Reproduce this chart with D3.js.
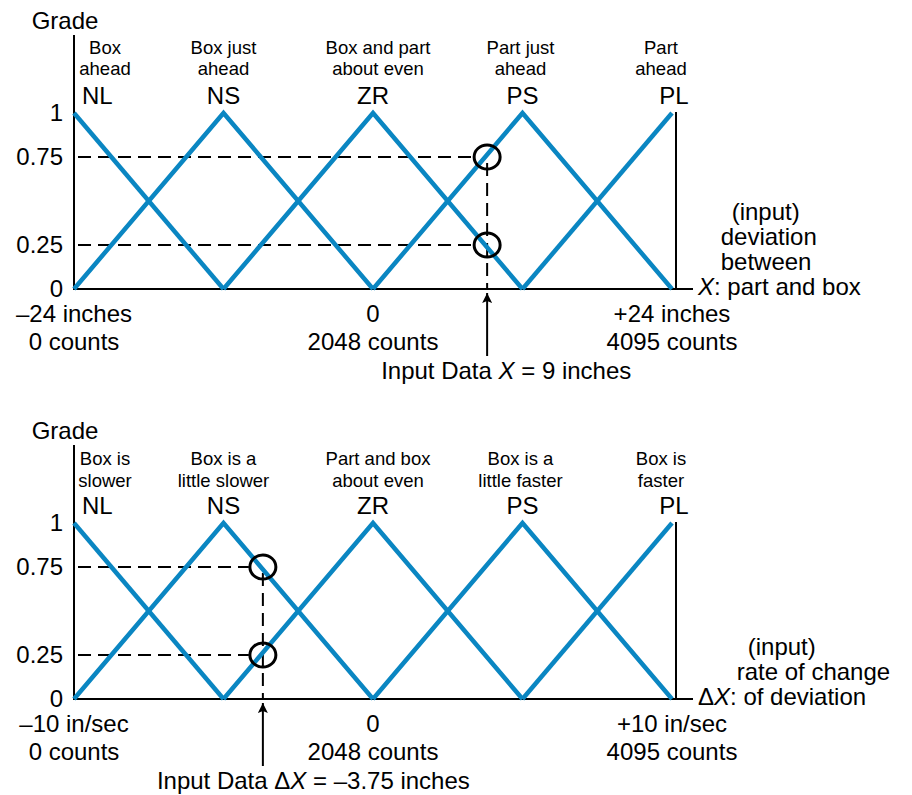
<!DOCTYPE html>
<html>
<head>
<meta charset="utf-8">
<script src="https://cdn.jsdelivr.net/npm/d3@7"></script>
<style>
  body { margin: 0; background: #fff; }
  text { font-family: "Liberation Sans", Arial, Helvetica, sans-serif; fill: #000; }
</style>
</head>
<body>
<div id="chart"></div>
<script>
// fuzzy set names, same for both panels
var setNames = ["NL", "NS", "ZR", "PS", "PL"];
var gradeTicks = [0, 0.25, 0.75, 1];

// top panel: deviation X between part and box (inches)
var devPeaks = [-24, -12, 0, 12, 24];
var devLabels = [["Box", "ahead"], ["Box just", "ahead"], ["Box and part", "about even"],
                 ["Part just", "ahead"], ["Part", "ahead"]];
var devTicks = [-24, 0, 24];
var devTickLabels = [["\u201324 inches", "0 counts"], ["0", "2048 counts"], ["+24 inches", "4095 counts"]];
var devNotes = ["(input)", "deviation", "between", "part and box"];
var devInput = 9;

// bottom panel: rate of change of deviation (in/sec)
var ratePeaks = [-10, -5, 0, 5, 10];
var rateLabels = [["Box is", "slower"], ["Box is a", "little slower"], ["Part and box", "about even"],
                  ["Box is a", "little faster"], ["Box is", "faster"]];
var rateTicks = [-10, 0, 10];
var rateTickLabels = [["\u201310 in/sec", "0 counts"], ["0", "2048 counts"], ["+10 in/sec", "4095 counts"]];
var rateNotes = ["(input)", "rate of change", "of deviation"];
var rateInput = -3.75;

var blue = "#0a86c2";
var big = "24px", small = "18.5px";
var W = 912, H = 795;

var svg = d3.select("#chart").append("svg")
    .attr("width", W)
    .attr("height", H);

svg.append("defs").append("marker")
    .attr("id", "head")
    .attr("viewBox", "0 0 10 10")
    .attr("refX", 10)
    .attr("refY", 5)
    .attr("markerUnits", "userSpaceOnUse")
    .attr("markerWidth", 11)
    .attr("markerHeight", 10)
    .attr("orient", "auto")
  .append("path")
    .attr("d", "M0,0 L10,5 L0,10 L2,5 Z")
    .attr("fill", "#000");

function drawPanel(top, cfg) {
  var g = svg.append("g").attr("transform", "translate(0," + top + ")");

  var x = d3.scaleLinear().domain([cfg.peaks[0], cfg.peaks[cfg.peaks.length - 1]]).range([74, 672]);
  var y = d3.scaleLinear().domain([0, 1]).range([289, 113]);
  var half = cfg.peaks[1] - cfg.peaks[0];
  var x0 = x.range()[0], y0 = y(0);

  // grade of a set (triangle) at value v
  function grade(v, p) { return Math.max(0, 1 - Math.abs(v - p) / half); }

  // y axis
  var yAxis = d3.axisLeft(y).tickValues(gradeTicks).tickSize(0).tickPadding(11)
      .tickFormat(function(d) { return String(d); });
  var ya = g.append("g").attr("transform", "translate(" + x0 + ",0)").call(yAxis);
  ya.select(".domain").remove();
  ya.selectAll("text").style("font-size", big).attr("font-family", null);

  g.append("line")
      .attr("x1", x0).attr("x2", x0)
      .attr("y1", 35).attr("y2", y0)
      .attr("stroke", "#000").attr("stroke-width", 2);
  g.append("text")
      .attr("x", 65).attr("y", 29)
      .attr("text-anchor", "middle")
      .style("font-size", big)
      .text("Grade");

  // x axis line and right edge
  g.append("line")
      .attr("x1", x0 - 1).attr("x2", 693)
      .attr("y1", y0).attr("y2", y0)
      .attr("stroke", "#000").attr("stroke-width", 2);
  g.append("line")
      .attr("x1", x.range()[1] + 4).attr("x2", x.range()[1] + 4)
      .attr("y1", y(1) - 1).attr("y2", y0)
      .attr("stroke", "#000").attr("stroke-width", 2);

  // x tick labels (two lines each)
  g.selectAll(".xtick").data(cfg.ticks).enter().append("text")
      .attr("class", "xtick")
      .attr("text-anchor", "middle")
      .style("font-size", big)
      .each(function(d, i) {
        var t = d3.select(this);
        cfg.tickLabels[i].forEach(function(s, j) {
          t.append("tspan").attr("x", x(d)).attr("y", y0 + 33 + j * 28).text(s);
        });
      });

  // dashed guides, arrow and circles for the input value
  var xi = x(cfg.input);
  var hits = cfg.peaks.map(function(p) { return grade(cfg.input, p); })
      .filter(function(v) { return v > 0; });

  g.selectAll(".hguide").data(hits).enter().append("line")
      .attr("x1", x0).attr("x2", xi - 12)
      .attr("y1", function(d) { return y(d); }).attr("y2", function(d) { return y(d); })
      .attr("stroke", "#000").attr("stroke-width", 2)
      .attr("stroke-dasharray", "13,7")
      .attr("stroke-dashoffset", -4);
  g.append("line")
      .attr("x1", xi + 2).attr("x2", xi + 2)
      .attr("y1", y(d3.max(hits)) + 6).attr("y2", y0)
      .attr("stroke", "#000").attr("stroke-width", 2)
      .attr("stroke-dasharray", "13,7");

  // membership triangles
  var line = d3.line().x(function(d) { return x(d[0]); }).y(function(d) { return y(d[1]); });
  var lo = x.domain()[0], hi = x.domain()[1];
  g.selectAll(".set").data(cfg.peaks).enter().append("path")
      .attr("class", "set")
      .attr("d", function(p) {
        var pts = [[p - half, 0], [p, 1], [p + half, 0]].filter(function(q) { return q[0] >= lo && q[0] <= hi; });
        return line(pts);
      })
      .attr("fill", "none")
      .attr("stroke", blue)
      .attr("stroke-width", 4.5)
      .attr("stroke-linejoin", "miter");

  g.selectAll(".hit").data(hits).enter().append("ellipse")
      .attr("cx", xi + 2).attr("cy", function(d) { return y(d); })
      .attr("rx", 13).attr("ry", 12)
      .attr("fill", "none")
      .attr("stroke", "#000").attr("stroke-width", 3);

  g.append("line")
      .attr("x1", xi + 2).attr("x2", xi + 2)
      .attr("y1", y0 + 67).attr("y2", y0 + 4)
      .attr("stroke", "#000").attr("stroke-width", 2)
      .attr("marker-end", "url(#head)");

  var it = g.append("text")
      .attr("x", xi - 104).attr("y", y0 + 90)
      .style("font-size", big);
  it.append("tspan").text("Input Data ");
  if (cfg.delta) it.append("tspan").text("\u0394");
  it.append("tspan").style("font-style", "italic").text("X");
  it.append("tspan").text(" = " + (cfg.input < 0 ? "\u2013" + Math.abs(cfg.input) : cfg.input) + " inches");

  // set names and their meanings
  g.selectAll(".name").data(setNames).enter().append("text")
      .attr("class", "name")
      .attr("x", function(d, i) { return i === 0 ? x(cfg.peaks[i]) + 8 : x(cfg.peaks[i]) + (i === 4 ? 2 : 0); })
      .attr("y", y(1) - 9)
      .attr("text-anchor", function(d, i) { return i === 0 ? "start" : "middle"; })
      .style("font-size", big)
      .text(function(d) { return d; });

  var nudge = [31, 0, 5, -2, -11];
  g.selectAll(".desc").data(cfg.labels).enter().append("text")
      .attr("class", "desc")
      .attr("text-anchor", "middle")
      .style("font-size", small)
      .each(function(d, i) {
        var t = d3.select(this);
        d.forEach(function(s, j) {
          t.append("tspan").attr("x", x(cfg.peaks[i]) + nudge[i]).attr("y", cfg.first + j * cfg.lead).text(s);
        });
      });

  // axis name with notes stacked above
  var ax = g.append("text")
      .attr("x", 698).attr("y", y0 + 6)
      .style("font-size", big);
  if (cfg.delta) ax.append("tspan").text("\u0394");
  ax.append("tspan").style("font-style", "italic").text("X");
  ax.append("tspan").text(": ");
  var notesX = 698 + ax.node().getComputedTextLength();
  ax.append("tspan").text(cfg.notes[cfg.notes.length - 1]);

  cfg.notes.slice(0, -1).forEach(function(s, j, arr) {
    g.append("text")
        .attr("x", j === 0 ? notesX + 11 : notesX)
        .attr("y", y0 + 6 - (arr.length - j) * 25)
        .style("font-size", big)
        .text(s);
  });
}

drawPanel(0, { peaks: devPeaks, labels: devLabels, ticks: devTicks, tickLabels: devTickLabels,
               notes: devNotes, input: devInput, delta: false, first: 54, lead: 21 });
drawPanel(410, { peaks: ratePeaks, labels: rateLabels, ticks: rateTicks, tickLabels: rateTickLabels,
                 notes: rateNotes, input: rateInput, delta: true, first: 55, lead: 22 });
</script>
</body>
</html>
